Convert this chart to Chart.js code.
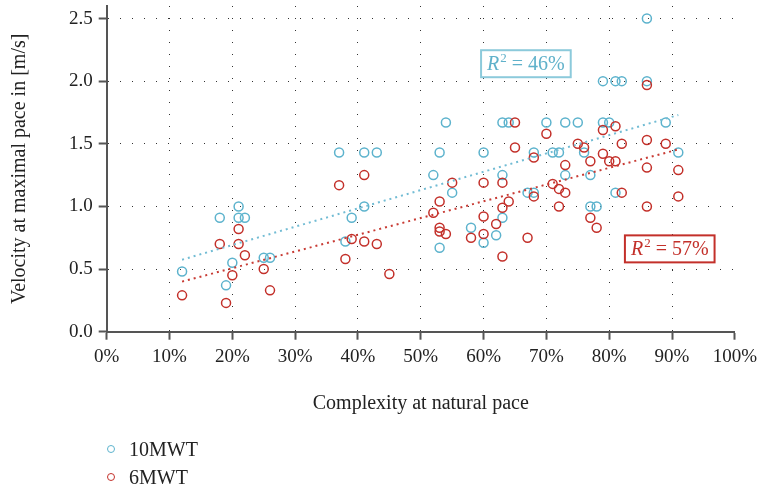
<!DOCTYPE html>
<html>
<head>
<meta charset="utf-8">
<script src="https://cdn.jsdelivr.net/npm/chart.js@4.4.0/dist/chart.umd.min.js"></script>
<style>
html, body { margin: 0; padding: 0; background: #fff; }
#wrap { position: relative; width: 763px; height: 489px; }
#legend { position: absolute; left: 107px; top: 435px; font-family: "Liberation Serif", serif; font-size: 20px; color: #222; }
.item { height: 28px; display: flex; align-items: center; }
.dot { width: 8px; height: 8px; border-radius: 50%; border: 1.5px solid; box-sizing: border-box; margin-right: 14px; }
</style>
</head>
<body>
<div id="wrap">
  <canvas id="myChart" width="763" height="489"></canvas>
  <div id="legend">
    <div class="item"><span class="dot" style="border-color:#5db3cd"></span><span>10MWT</span></div>
    <div class="item"><span class="dot" style="border-color:#c3302a"></span><span>6MWT</span></div>
  </div>
</div>
<script>
// 10MWT (blue)
var complexity10 = [12, 18, 19, 20, 21, 21, 22, 25, 26, 37, 38, 39, 41, 41, 43, 52, 53, 53, 54, 55,
    58, 60, 60, 62, 63, 63, 63, 64, 67, 68, 68, 70, 71, 72, 73, 73, 75, 76, 77, 77,
    78, 79, 79, 80, 81, 81, 82, 86, 86, 89, 91];
var velocity10 = [0.48, 0.91, 0.37, 0.55, 1.00, 0.91, 0.91, 0.59, 0.59, 1.43, 0.72, 0.91, 1.43, 1.00, 1.43, 1.25, 1.43, 0.67, 1.67, 1.11,
    0.83, 1.43, 0.71, 0.77, 1.67, 1.25, 0.91, 1.67, 1.11, 1.43, 1.11, 1.67, 1.43, 1.43, 1.67, 1.25, 1.67, 1.43, 1.25, 1.00,
    1.00, 2.00, 1.67, 1.67, 2.00, 1.11, 2.00, 2.50, 2.00, 1.67, 1.43];
// 6MWT (red)
var complexity6 = [12, 18, 19, 20, 21, 21, 22, 25, 26, 37, 38, 39, 41, 41, 43, 45, 52, 53, 53, 53,
    54, 55, 58, 60, 60, 60, 62, 63, 63, 63, 64, 65, 65, 67, 68, 68, 70, 71, 72, 72,
    73, 73, 75, 76, 77, 77, 78, 79, 79, 80, 81, 81, 82, 82, 86, 86, 86, 86, 89, 91, 91];
var velocity6 = [0.29, 0.70, 0.23, 0.45, 0.82, 0.70, 0.61, 0.50, 0.33, 1.17, 0.58, 0.74, 1.25, 0.72, 0.70, 0.46, 0.95, 1.04, 0.83, 0.80,
    0.78, 1.19, 0.75, 1.19, 0.92, 0.78, 0.86, 1.19, 0.99, 0.60, 1.04, 1.67, 1.47, 0.75, 1.39, 1.08, 1.58, 1.18, 1.14, 1.00,
    1.33, 1.11, 1.50, 1.47, 1.36, 0.91, 0.83, 1.61, 1.42, 1.36, 1.64, 1.36, 1.50, 1.11, 1.97, 1.53, 1.31, 1.00, 1.50, 1.29, 1.08];
// trend line end points
var trendX = [12, 91];
var trend10 = [0.575, 1.73];
var trend6 = [0.40, 1.455];

var xTicks = [0, 10, 20, 30, 40, 50, 60, 70, 80, 90, 100];
var yTicks = [0, 0.5, 1, 1.5, 2, 2.5];
var r2Text = ['46%', '57%'];

var blue = '#5db3cd';
var red = '#c3302a';
var serif = '"Liberation Serif", "DejaVu Serif", serif';

function toPoints(xs, ys) {
    var pts = [];
    for (var i = 0; i < xs.length; i++) {
        pts.push({x: xs[i], y: ys[i]});
    }
    return pts;
}

// R^2 boxes, placed in data coordinates (top-left corner)
var r2Boxes = [
    {x: 59.6, y: 2.247, text: r2Text[0], color: '#5fb1ca', border: '#8ccadb'},
    {x: 82.5, y: 0.769, text: r2Text[1], color: '#c3302a', border: '#c3302a'}
];

const r2Plugin = {
    id: 'r2',
    afterDatasetsDraw(chart) {
        const ctx = chart.ctx;
        const xs = chart.scales.x, ys = chart.scales.y;
        r2Boxes.forEach(function(b) {
            const left = xs.getPixelForValue(b.x);
            const top = ys.getPixelForValue(b.y);
            ctx.save();
            ctx.font = 'italic 20px ' + serif;
            const wR = ctx.measureText('R').width;
            ctx.font = '13px ' + serif;
            const w2 = ctx.measureText('2').width;
            ctx.font = '20px ' + serif;
            const rest = ' = ' + b.text;
            const wRest = ctx.measureText(rest).width;
            const padX = 6;
            const w = wR + w2 + wRest + padX * 2 + 1;
            const h = 27;
            ctx.fillStyle = '#fff';
            ctx.fillRect(left, top, w, h);
            ctx.strokeStyle = b.border;
            ctx.lineWidth = 2;
            ctx.strokeRect(left, top, w, h);
            ctx.fillStyle = b.color;
            ctx.textBaseline = 'alphabetic';
            ctx.textAlign = 'left';
            let x = left + padX;
            const base = top + 20;
            ctx.font = 'italic 20px ' + serif;
            ctx.fillText('R', x, base);
            x += wR + 1;
            ctx.font = '13px ' + serif;
            ctx.fillText('2', x, base - 8);
            x += w2;
            ctx.font = '20px ' + serif;
            ctx.fillText(rest, x, base);
            ctx.restore();
        });
    }
};

const ctx = document.getElementById('myChart');
new Chart(ctx, {
    type: 'scatter',
    data: {
        datasets: [{
            label: '10MWT',
            data: toPoints(complexity10, velocity10),
            borderColor: blue,
            backgroundColor: 'transparent',
            borderWidth: 1.5,
            pointRadius: 4.5,
            order: 2
        },
        {
            label: '6MWT',
            data: toPoints(complexity6, velocity6),
            borderColor: red,
            backgroundColor: 'transparent',
            borderWidth: 1.5,
            pointRadius: 4.5,
            order: 1
        },
        {
            label: 'trend 10MWT',
            data: toPoints(trendX, trend10),
            showLine: true,
            borderColor: '#72bcd4',
            borderWidth: 2,
            borderDash: [2, 4],
            pointRadius: 0,
            fill: false,
            order: 0
        },
        {
            label: 'trend 6MWT',
            data: toPoints(trendX, trend6),
            showLine: true,
            borderColor: '#c83b34',
            borderWidth: 2,
            borderDash: [2, 4],
            pointRadius: 0,
            fill: false,
            order: 0
        }]
    },
    options: {
        responsive: false,
        animation: false,
        layout: { padding: { top: 5, right: 23, bottom: 0, left: 0 } },
        plugins: {
            legend: { display: false },
            tooltip: { enabled: false }
        },
        scales: {
            x: {
                type: 'linear',
                min: 0,
                max: 100,
                afterBuildTicks: function(scale) {
                    scale.ticks = xTicks.map(function(v) { return {value: v}; });
                },
                afterFit: function(scale) { scale.height = 157.3; },
                ticks: {
                    padding: 6,
                    color: '#222',
                    font: { family: serif, size: 19 },
                    callback: function(v) { return v + '%'; }
                },
                grid: {
                    color: function(c) { return c.index === xTicks.length - 1 ? 'rgba(0,0,0,0)' : '#333'; },
                    lineWidth: 1,
                    tickLength: 8,
                    tickColor: '#555',
                    tickWidth: 2,
                    tickBorderDash: []
                },
                border: { display: true, color: '#555', width: 2, dash: [1, 11] },
                title: {
                    display: true,
                    text: 'Complexity at natural pace',
                    color: '#222',
                    font: { family: serif, size: 20 },
                    padding: { top: 0, bottom: 73 }
                }
            },
            y: {
                min: 0,
                max: 2.6,
                afterBuildTicks: function(scale) {
                    scale.ticks = yTicks.map(function(v) { return {value: v}; });
                },
                afterFit: function(scale) {
                    scale.width = 106.7;
                    scale.paddingTop = 0;
                    scale.paddingBottom = 0;
                },
                ticks: {
                    padding: 6,
                    color: '#222',
                    font: { family: serif, size: 19 },
                    callback: function(v) { return v.toFixed(1); }
                },
                grid: {
                    color: '#333',
                    lineWidth: 1,
                    tickLength: 8,
                    tickColor: '#555',
                    tickWidth: 2,
                    tickBorderDash: []
                },
                border: { display: true, color: '#555', width: 2, dash: [1, 11] },
                title: {
                    display: true,
                    text: 'Velocity at maximal pace in [m/s]',
                    color: '#222',
                    font: { family: serif, size: 20 },
                    padding: { top: 8, bottom: 0 }
                }
            }
        }
    },
    plugins: [r2Plugin]
});
</script>
</body>
</html>
